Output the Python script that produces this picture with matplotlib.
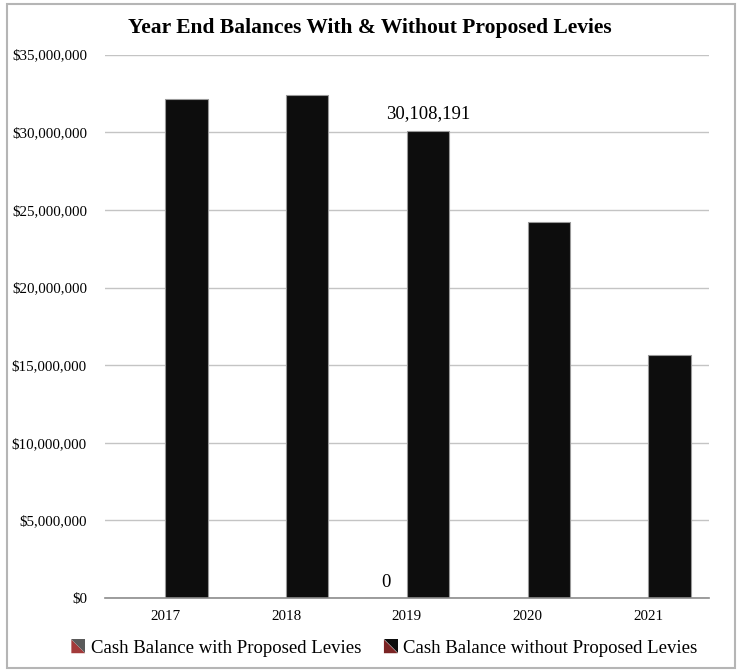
import numpy as np
import matplotlib
matplotlib.use("Agg")
import matplotlib.pyplot as plt
from matplotlib.patches import Polygon, Rectangle, Patch
from matplotlib.legend_handler import HandlerBase
from matplotlib.ticker import FuncFormatter

YEARS = ["2017", "2018", "2019", "2020", "2021"]
WITH_LEVIES = [np.nan, np.nan, 0, np.nan, np.nan]
WITHOUT_LEVIES = [32130000, 32380000, 30108191, 24190000, 15640000]
SERIES_NAMES = ["Cash Balance with Proposed Levies", "Cash Balance without Proposed Levies"]
LABEL_INDEX = 2  # only 2019 carries data labels

plt.rcParams["font.family"] = ["Liberation Serif", "DejaVu Serif"]


class SplitSquare(HandlerBase):
    # legend key: square split along its diagonal into two colours
    def __init__(self, upper, lower):
        super().__init__()
        self.upper = upper
        self.lower = lower

    def create_artists(self, legend, orig_handle, xdescent, ydescent,
                       width, height, fontsize, trans):
        s = height
        x0 = width - s - xdescent
        y0 = -ydescent
        up = Polygon([[x0, y0 + s], [x0 + s, y0 + s], [x0 + s, y0]],
                     closed=True, facecolor=self.upper, edgecolor="none", transform=trans)
        lo = Polygon([[x0, y0], [x0, y0 + s], [x0 + s, y0]],
                     closed=True, facecolor=self.lower, edgecolor="none", transform=trans)
        return [lo, up]


fig = plt.figure(figsize=(7.39, 6.71), dpi=100)
ax = fig.add_axes([0.142, 0.1088, 0.817, 0.8097])

x = np.arange(len(YEARS))
w = 0.35
ax.bar(x - w / 2, WITH_LEVIES, w, color="#555555", edgecolor="#999999", linewidth=0.8)
ax.bar(x + w / 2, WITHOUT_LEVIES, w, color="#0d0d0d", edgecolor="#999999", linewidth=0.8)

# data labels
ax.annotate(f"{WITH_LEVIES[LABEL_INDEX]:,.0f}", (x[LABEL_INDEX] - w / 2, WITH_LEVIES[LABEL_INDEX]),
            xytext=(0, 5), textcoords="offset points", ha="center", va="bottom", fontsize=13.5)
ax.annotate(f"{WITHOUT_LEVIES[LABEL_INDEX]:,.0f}", (x[LABEL_INDEX] + w / 2, WITHOUT_LEVIES[LABEL_INDEX]),
            xytext=(0, 6), textcoords="offset points", ha="center", va="bottom", fontsize=13.5)

ax.set_xlim(-0.5, len(YEARS) - 0.5)
ax.set_ylim(0, 35000000)
ax.set_yticks(np.arange(0, 35000001, 5000000))
ax.yaxis.set_major_formatter(FuncFormatter(lambda v, p: f"${v:,.0f}"))
ax.set_xticks(x)
ax.set_xticklabels(YEARS)
ax.tick_params(axis="both", length=0, labelsize=10.8)
ax.tick_params(axis="x", pad=9)
ax.tick_params(axis="y", pad=13)
ax.grid(axis="y", color="#c4c4c4", linewidth=1.0)
ax.set_axisbelow(True)
for side in ["left", "right", "top"]:
    ax.spines[side].set_visible(False)
ax.spines["bottom"].set_color("#8c8c8c")
ax.spines["bottom"].set_linewidth(1.2)

fig.text(0.5, 0.958, "Year End Balances With & Without Proposed Levies",
         ha="center", va="center", fontsize=15.5, fontweight="bold")

h1 = Patch(label=SERIES_NAMES[0])
h2 = Patch(label=SERIES_NAMES[1])
fig.legend(handles=[h1, h2], loc="center", bbox_to_anchor=(0.52, 0.034), ncol=2,
           frameon=False, fontsize=13.5, handlelength=0.75, handleheight=0.75,
           handletextpad=0.3, columnspacing=1.2,
           handler_map={h1: SplitSquare("#5a5a5a", "#a33a3a"),
                        h2: SplitSquare("#0d0d0d", "#7a2424")})

fig.patches.append(Rectangle((0.009, 0.004), 0.985, 0.99, transform=fig.transFigure,
                             fill=False, edgecolor="#b5b5b5", linewidth=1.5))

plt.savefig("out.png", dpi=100)
plt.close()
